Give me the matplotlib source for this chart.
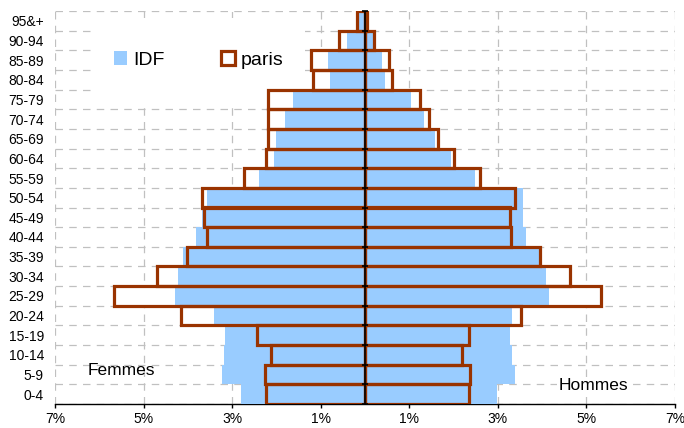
import numpy as np
import matplotlib.pyplot as plt
from matplotlib.patches import Patch, Rectangle

# --- Données (en % de la population) ---
ages = ['0-4', '5-9', '10-14', '15-19', '20-24', '25-29', '30-34', '35-39',
        '40-44', '45-49', '50-54', '55-59', '60-64', '65-69', '70-74',
        '75-79', '80-84', '85-89', '90-94', '95&+']

idf_femmes = [2.80, 3.23, 3.19, 3.16, 3.41, 4.29, 4.23, 4.10, 3.82, 3.69,
              3.57, 2.40, 2.06, 2.00, 1.81, 1.63, 0.79, 0.84, 0.41, 0.13]
idf_hommes = [2.98, 3.39, 3.32, 3.28, 3.32, 4.15, 4.08, 3.94, 3.63, 3.56,
              3.56, 2.49, 1.95, 1.59, 1.33, 1.04, 0.45, 0.38, 0.17, 0.04]
paris_femmes = [2.23, 2.26, 2.13, 2.43, 4.15, 5.67, 4.69, 4.02, 3.56, 3.63,
                3.69, 2.73, 2.24, 2.18, 2.20, 2.18, 1.17, 1.21, 0.58, 0.19]
paris_hommes = [2.35, 2.37, 2.18, 2.34, 3.52, 5.32, 4.63, 3.95, 3.29, 3.27,
                3.39, 2.59, 2.00, 1.64, 1.45, 1.25, 0.60, 0.54, 0.21, 0.05]

xticks = [-7, -5, -3, -1, 1, 3, 5, 7]
xlabels = ['7%', '5%', '3%', '1%', '1%', '3%', '5%', '7%']

bleu = '#99CCFF'
brun = '#993300'
gris = '#C0C0C0'

plt.rcParams['font.family'] = ['Liberation Sans', 'DejaVu Sans']

fig = plt.figure(figsize=(6.84, 4.28), dpi=100)
ax = fig.add_axes([55 / 684, 1 - 404 / 428, 620 / 684, 393 / 428])

y = np.arange(len(ages))
pf = -np.array(paris_femmes)
ph = np.array(paris_hommes)

# paris : fond blanc derrière, contour brun devant
ax.barh(y, pf, height=1.0, color='white', edgecolor='none', zorder=2)
ax.barh(y, ph, height=1.0, color='white', edgecolor='none', zorder=2)
ax.barh(y, -np.array(idf_femmes), height=1.0, color=bleu, edgecolor='none', zorder=3)
ax.barh(y, idf_hommes, height=1.0, color=bleu, edgecolor='none', zorder=3)
ax.barh(y, pf, height=1.0, fill=False, edgecolor=brun, linewidth=2.3, zorder=4)
ax.barh(y, ph, height=1.0, fill=False, edgecolor=brun, linewidth=2.3, zorder=4)

# axe central
bornes = np.arange(len(ages) + 1) - 0.5
ax.axvline(0, color='black', linewidth=1.2, zorder=5)
ax.plot(np.zeros(len(bornes)), bornes, linestyle='none', marker='_',
        markersize=5, color='black', markeredgewidth=1.2, zorder=5, clip_on=False)

ax.set_xlim(-7, 7)
ax.set_ylim(-0.5, len(ages) - 0.5)
ax.set_xticks(xticks)
ax.set_xticklabels(xlabels, fontsize=10)
ax.set_yticks(y)
ax.set_yticklabels(ages, fontsize=10)
ax.set_yticks(bornes, minor=True)
ax.tick_params(axis='y', which='both', length=0, pad=8)
ax.tick_params(axis='x', length=3, width=1, direction='out', pad=2.5)

ax.grid(True, axis='x', which='major', color=gris, linestyle=(0, (6, 5)), linewidth=0.9, zorder=0)
ax.grid(True, axis='y', which='minor', color=gris, linestyle=(0, (6, 5)), linewidth=0.9, zorder=0)
ax.set_axisbelow(True)

for s in ['top', 'left', 'right']:
    ax.spines[s].set_visible(False)
ax.spines['bottom'].set_linewidth(1)

# fond blanc de la légende
ax.add_patch(Rectangle((92 / 684, 1 - 102 / 428), 213 / 684, 84 / 428,
                       transform=fig.transFigure, facecolor='white',
                       edgecolor='none', zorder=1))
handles = [Patch(facecolor=bleu, edgecolor='none', label='IDF'),
           Patch(facecolor='white', edgecolor=brun, linewidth=2.3, label='paris')]
ax.legend(handles=handles, ncol=2, frameon=False, fontsize=14,
          loc='center', bbox_to_anchor=(0.2315, 0.875),
          handlelength=0.7, handleheight=0.7, handletextpad=0.3,
          columnspacing=2.9)

ax.text(-5.5, 1.23, 'Femmes', fontsize=12.5, ha='center', va='center', zorder=6)
ax.text(5.15, 0.42, 'Hommes', fontsize=12.5, ha='center', va='center', zorder=6,
        bbox=dict(facecolor='white', edgecolor='none', pad=1))

fig.savefig('out.png', dpi=100)
